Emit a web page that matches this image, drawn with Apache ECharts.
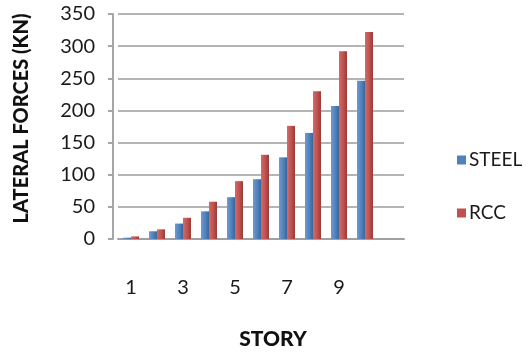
<!DOCTYPE html>
<html>
<head>
<meta charset="utf-8">
<script src="https://cdn.jsdelivr.net/npm/echarts@6/dist/echarts.min.js"></script>
<style>
  html, body { margin: 0; padding: 0; background: #ffffff; }
  #chart { width: 530px; height: 355px; }
</style>
</head>
<body>
<div id="chart"></div>
<script>
// Lateral forces per story for the two framing systems (kN)
const stories = ['1', '2', '3', '4', '5', '6', '7', '8', '9', '10'];
const steelForces = [2, 12, 24, 43, 65, 93, 127, 165, 207, 246];
const rccForces = [4, 15, 33, 58, 90, 131, 176, 230, 292, 322];
const yTicks = { min: 0, max: 350, step: 50 };

// one trailing empty slot keeps some floor space to the right of story 10
const axisCategories = stories.concat(['']);

const FONT = 'Lato, "Open Sans", sans-serif';

function shaded(light, base, dark) {
  return new echarts.graphic.LinearGradient(0, 0, 1, 0, [
    { offset: 0, color: light },
    { offset: 0.55, color: base },
    { offset: 1, color: dark }
  ]);
}

const chart = echarts.init(document.getElementById('chart'), null, { renderer: 'canvas' });

chart.setOption({
  animation: false,
  backgroundColor: '#ffffff',
  grid: { left: 118, right: 126, top: 14, bottom: 111 },
  legend: {
    orient: 'vertical',
    left: 452,
    top: 145,
    itemWidth: 9,
    itemHeight: 9,
    itemGap: 33,
    icon: 'rect',
    textStyle: { fontFamily: FONT, fontSize: 19, color: '#1a1a1a', lineHeight: 20, padding: [0, 0, 0, -2] },
    data: [
      { name: 'STEEL', itemStyle: { color: '#4F81BD' } },
      { name: 'RCC', itemStyle: { color: '#C0504D' } }
    ]
  },
  xAxis: {
    type: 'category',
    data: axisCategories,
    name: 'STORY',
    nameLocation: 'middle',
    nameGap: 90,
    nameTextStyle: { fontFamily: FONT, fontSize: 21, fontWeight: 900, color: '#111111', padding: [0, 0, 0, 24] },
    axisLine: { show: true, lineStyle: { color: '#a0a0a0', width: 2 } },
    axisTick: { show: false },
    axisLabel: { interval: 1, margin: 39, fontFamily: FONT, fontSize: 20, color: '#1a1a1a' },
    splitLine: { show: false }
  },
  yAxis: {
    type: 'value',
    min: yTicks.min,
    max: yTicks.max,
    interval: yTicks.step,
    offset: 5,
    name: 'LATERAL FORCES (KN)',
    nameLocation: 'middle',
    nameGap: 81,
    nameRotate: 90,
    nameTextStyle: { fontFamily: FONT, fontSize: 20, fontWeight: 900, color: '#111111', padding: [0, 0, 0, 16] },
    axisLine: { show: true, lineStyle: { color: '#a6a6a6', width: 2 } },
    axisTick: { show: true, length: 5, lineStyle: { color: '#a6a6a6', width: 2 } },
    axisLabel: { margin: 18, fontFamily: FONT, fontSize: 20, color: '#1a1a1a' },
    splitLine: { show: true, lineStyle: { color: '#b4b4b4', width: 2 } }
  },
  series: [
    {
      name: 'STEEL',
      type: 'bar',
      data: steelForces,
      barWidth: 8,
      barGap: '0%',
      itemStyle: { color: shaded('#6f9ad0', '#4F81BD', '#3b6698') }
    },
    {
      name: 'RCC',
      type: 'bar',
      data: rccForces,
      barWidth: 8,
      barGap: '0%',
      itemStyle: { color: shaded('#d36b68', '#C0504D', '#963c3a') }
    }
  ]
});
</script>
</body>
</html>
